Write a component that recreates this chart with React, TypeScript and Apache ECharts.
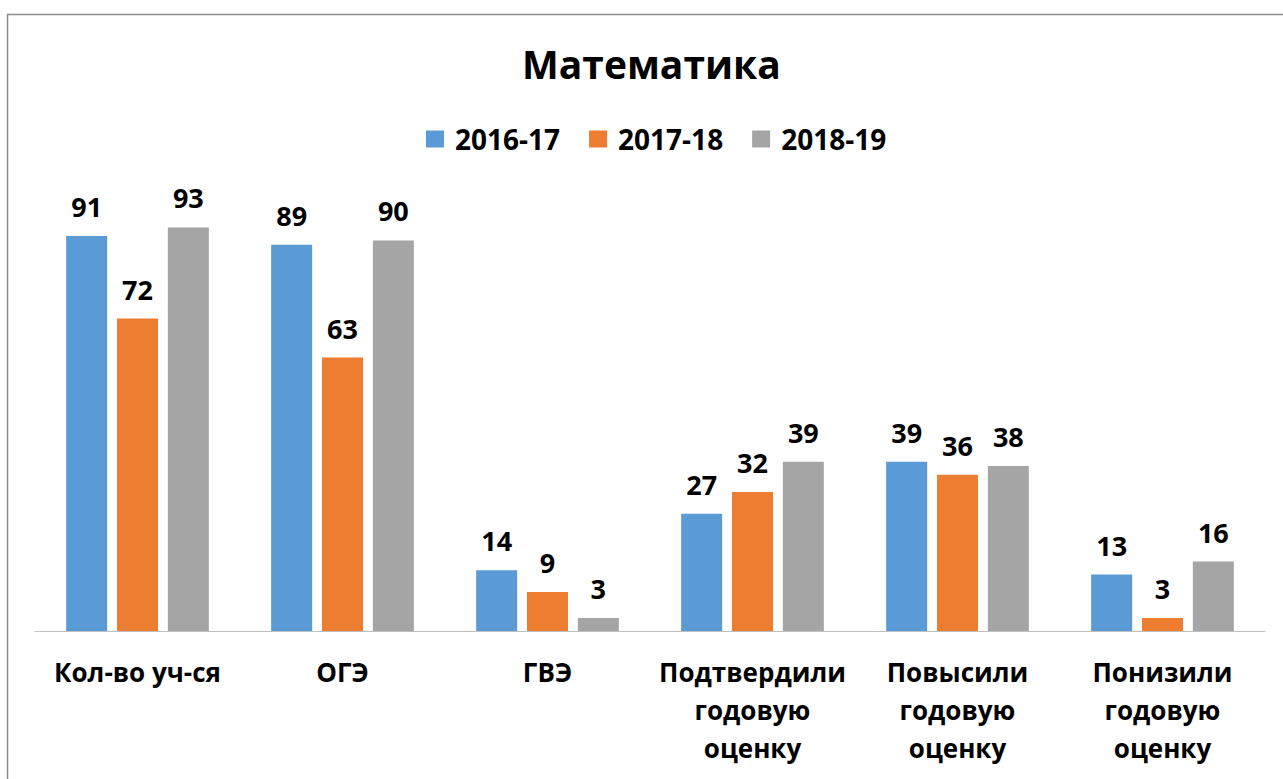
import React, { useEffect, useRef } from "react";
import * as echarts from "echarts";

const categories = [
  "Кол-во уч-ся",
  "ОГЭ",
  "ГВЭ",
  "Подтвердили\nгодовую\nоценку",
  "Повысили\nгодовую\nоценку",
  "Понизили\nгодовую\nоценку",
];
const seriesNames = ["2016-17", "2017-18", "2018-19"];
const values2016 = [91, 89, 14, 27, 39, 13];
const values2017 = [72, 63, 9, 32, 36, 3];
const values2018 = [93, 90, 3, 39, 38, 16];
const colors = ["#5B9BD5", "#ED7D31", "#A5A5A5"];

const FONT = "'Open Sans', sans-serif";

export default function App() {
  const ref = useRef<HTMLDivElement>(null);
  useEffect(() => {
    if (!ref.current) return;
    const chart = echarts.init(ref.current, undefined, { renderer: "svg" });
    const data = [values2016, values2017, values2018];
    chart.setOption({
      animation: false,
      backgroundColor: "#ffffff",
      title: {
        text: "Математика",
        left: 517,
        top: 39,
        textStyle: { fontFamily: FONT, fontWeight: "bold", fontSize: 39, color: "#000" },
      },
      legend: {
        data: seriesNames,
        top: 120,
        left: 421,
        itemWidth: 18,
        itemHeight: 17,
        itemGap: 29,
        icon: "rect",
        textStyle: { fontFamily: FONT, fontWeight: "bold", fontSize: 28, color: "#000", padding: [0, 0, 0, 6] },
      },
      graphic: [
        {
          type: "rect",
          shape: { x: 7.5, y: 14.5, width: 1320, height: 820 },
          style: { fill: "none", stroke: "#8c8c8c", lineWidth: 1.5 },
          silent: true,
        },
      ],
      grid: { left: 35, right: 18, top: 197, bottom: 148, containLabel: false },
      xAxis: {
        type: "category",
        data: categories,
        axisLine: { show: true, lineStyle: { color: "#bfbfbf", width: 1 } },
        axisTick: { show: false },
        axisLabel: {
          interval: 0,
          margin: 22,
          fontFamily: FONT,
          fontWeight: "bold",
          fontSize: 26,
          lineHeight: 38,
          color: "#000",
        },
      },
      yAxis: { type: "value", min: 0, max: 100, show: false, splitLine: { show: false } },
      series: seriesNames.map((name, i) => ({
        name,
        type: "bar",
        data: data[i],
        barWidth: "20%",
        barGap: "24%",
        itemStyle: { color: colors[i] },
        label: {
          show: true,
          position: "top",
          distance: 16,
          fontFamily: FONT,
          fontWeight: "bold",
          fontSize: 27,
          color: "#000",
        },
      })),
    });
    return () => chart.dispose();
  }, []);
  return (
    <div
      ref={ref}
      style={{ position: "fixed", left: 0, top: 0, width: 1283, height: 779 }}
    />
  );
}
